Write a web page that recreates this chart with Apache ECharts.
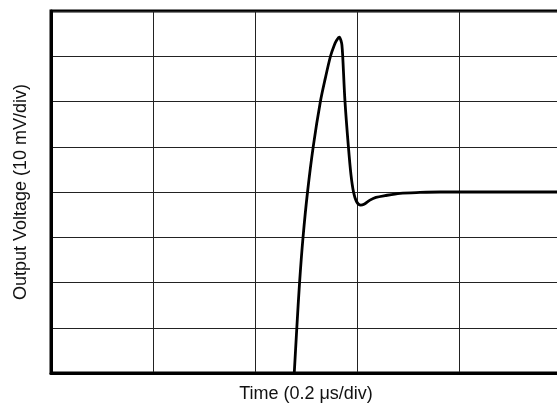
<!DOCTYPE html>
<html>
<head>
<meta charset="utf-8">
<script src="https://cdn.jsdelivr.net/npm/echarts@6/dist/echarts.min.js"></script>
<style>html,body{margin:0;padding:0;background:#fff;}#c{width:557px;height:407px;}</style>
</head>
<body>
<div id="c"></div>
<script>
// Time in divisions (0.2 us/div)
var timeDiv = [2.380, 2.410, 2.437, 2.471, 2.515, 2.572, 2.642, 2.688, 2.740, 2.778, 2.802, 2.827, 2.845, 2.852, 2.860, 2.882, 2.915, 2.941, 2.966, 2.995, 3.036, 3.069, 3.127, 3.186, 3.275, 3.422, 3.618, 3.814, 4.41, 5.0];
// Output voltage in divisions (10 mV/div)
var voltDiv = [-0.2, 1.0, 2.0, 3.0, 4.0, 5.02, 6.01, 6.5, 7.0, 7.25, 7.36, 7.42, 7.33, 7.25, 7.0, 6.01, 5.02, 4.38, 4.0, 3.79, 3.71, 3.73, 3.82, 3.88, 3.92, 3.97, 3.99, 4.0, 4.0, 4.0];
var xDivisions = 5;
var yDivisions = 8;
var xTitle = 'Time (0.2 \u03bcs/div)';
var yTitle = 'Output Voltage (10 mV/div)';

var data = timeDiv.map(function (t, i) { return [t, voltDiv[i]]; });
var chart = echarts.init(document.getElementById('c'), null, {renderer: 'canvas'});
var font = '"Liberation Sans", Arial, Helvetica, sans-serif';
chart.setOption({
  animation: false,
  backgroundColor: '#fff',
  grid: {left: 51, top: 11, width: 510, height: 362, show: true, borderColor: '#000', borderWidth: 3, backgroundColor: '#fff', containLabel: false, outerBoundsMode: 'none'},
  xAxis: {
    type: 'value', min: 0, max: xDivisions, interval: 1,
    name: xTitle, nameLocation: 'middle', nameGap: 12,
    nameTextStyle: {fontFamily: font, fontSize: 18, color: '#111'},
    axisLine: {show: true, lineStyle: {color: '#000', width: 3}},
    axisTick: {show: false}, axisLabel: {show: false},
    splitLine: {show: true, lineStyle: {color: '#222', width: 1}}
  },
  yAxis: {
    type: 'value', min: 0, max: yDivisions, interval: 1,
    name: yTitle, nameLocation: 'middle', nameGap: 21,
    nameTextStyle: {fontFamily: font, fontSize: 18, color: '#111'},
    axisLine: {show: true, lineStyle: {color: '#000', width: 3}},
    axisTick: {show: false}, axisLabel: {show: false},
    splitLine: {show: true, lineStyle: {color: '#222', width: 1}}
  },
  series: [{
    type: 'line', data: data, showSymbol: false, smooth: 0.3, clip: true,
    lineStyle: {color: '#000', width: 2.8, cap: 'round', join: 'round'}, z: 5
  }]
});
</script>
</body>
</html>
